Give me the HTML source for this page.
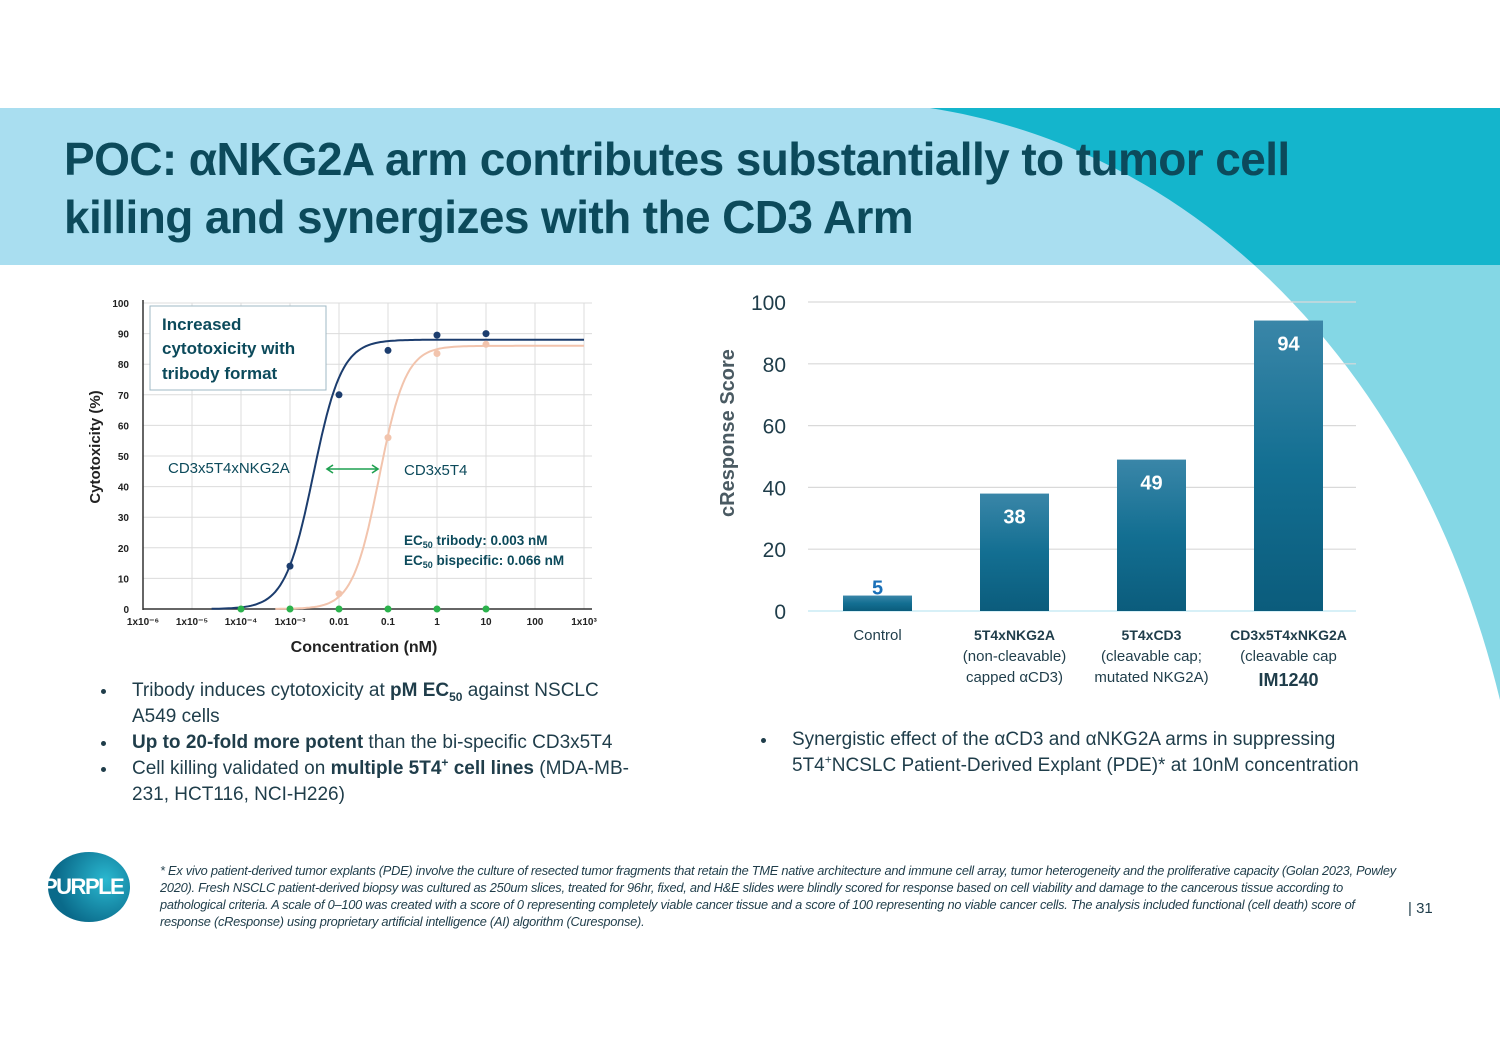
<!DOCTYPE html>
<html><head><meta charset="utf-8">
<style>
body{margin:0;width:1500px;height:1060px;overflow:hidden;background:#fff;font-family:"Liberation Sans",sans-serif;position:relative}
.abs{position:absolute}
.title{left:64px;top:130px;font-size:46px;font-weight:bold;color:#0c4a5b;line-height:58px;letter-spacing:-0.6px;white-space:nowrap}
.bul{font-size:19px;color:#1f3d4a;line-height:26px}
.bul li{margin:0;padding-left:14px}
.bul sub,.bul sup{font-size:12px;line-height:0}
.foot{left:160px;top:862px;width:1240px;font-size:12.8px;font-style:italic;color:#1f3d4a;line-height:17px;letter-spacing:-0.25px}
</style></head><body>
<svg class="abs" style="left:0;top:0" width="1500" height="1060">
<defs>
<clipPath id="band"><rect x="0" y="108" width="1500" height="157"/></clipPath>
<clipPath id="below"><rect x="0" y="265" width="1500" height="800"/></clipPath>
</defs>
<rect x="0" y="108" width="1500" height="157" fill="#a9def0"/>
<path d="M930,108 C1200,150 1420,370 1500,700 L1500,108 Z" fill="#14b5cc" clip-path="url(#band)"/>
<path d="M930,108 C1200,150 1420,370 1500,700 L1500,108 Z" fill="#84d7e5" clip-path="url(#below)"/>
</svg>
<div class="abs title">POC: αNKG2A arm contributes substantially to tumor cell<br>killing and synergizes with the CD3 Arm</div>

<svg id="left" class="abs" style="left:0;top:0" width="700" height="680"></svg>
<svg id="right" class="abs" style="left:0;top:0" width="1500" height="700"></svg>

<ul class="abs bul" style="left:96px;top:678px;width:520px;padding-left:22px;margin:0">
<li>Tribody induces cytotoxicity at <b>pM EC<sub>50</sub></b> against NSCLC A549 cells</li>
<li><b>Up to 20-fold more potent</b> than the bi-specific CD3x5T4</li>
<li>Cell killing validated on <b>multiple 5T4<sup>+</sup> cell lines</b> (MDA-MB-231, HCT116, NCI-H226)</li>
</ul>
<ul class="abs bul" style="left:756px;top:727px;width:640px;padding-left:22px;margin:0">
<li>Synergistic effect of the αCD3 and αNKG2A arms in suppressing 5T4<sup>+</sup>NCSLC Patient-Derived Explant (PDE)* at 10nM concentration</li>
</ul>
<div class="abs" style="left:48px;top:852px;width:82px;height:70px;border-radius:50%;background:radial-gradient(circle at 70% 40%,#2ab8d0,#0a6a8a 70%)"></div>
<div class="abs" style="left:43px;top:874px;font-size:22px;font-weight:bold;color:#fff;letter-spacing:-1.5px">PURPLE</div>
<div class="abs foot">* Ex vivo patient-derived tumor explants (PDE) involve the culture of resected tumor fragments that retain the TME native architecture and immune cell array, tumor heterogeneity and the proliferative capacity (Golan 2023, Powley 2020). Fresh NSCLC patient-derived biopsy was cultured as 250um slices, treated for 96hr, fixed, and H&amp;E slides were blindly scored for response based on cell viability and damage to the cancerous tissue according to pathological criteria. A scale of 0–100 was created with a score of 0 representing completely viable cancer tissue and a score of 100 representing no viable cancer cells. The analysis included functional (cell death) score of response (cResponse) using proprietary artificial intelligence (AI) algorithm (Curesponse).</div>
<div class="abs" style="left:1408px;top:900px;font-size:15px;color:#1f3d4a">| 31</div>

<script>
// ---- left chart data ----
const xTickLabels=["1x10⁻⁶","1x10⁻⁵","1x10⁻⁴","1x10⁻³","0.01","0.1","1","10","100","1x10³"];
const yTicks=[0,10,20,30,40,50,60,70,80,90,100];
const triConc=[0.001,0.01,0.1,1,10];
const triVals=[14,70,84.5,89.5,90];
const biConc=[0.01,0.1,1,10];
const biVals=[5,56,83.5,86.5];
const ctrlConc=[0.0001,0.001,0.01,0.1,1,10];
const ctrlVals=[0,0,0,0,0,0];
const triFit=[88,0.003,1.5];   // top, EC50, hill
const biFit=[86,0.066,1.6];
// ---- right chart data ----
const barCats=[["Control"],["5T4xNKG2A","(non-cleavable)","capped αCD3)"],["5T4xCD3","(cleavable cap;","mutated NKG2A)"],["CD3x5T4xNKG2A","(cleavable cap","IM1240"]];
const barVals=[5,38,49,94];
const barTicks=[0,20,40,60,80,100];

const NS="http://www.w3.org/2000/svg";
function mk(p,t,a,txt){const e=document.createElementNS(NS,t);for(const k in a)e.setAttribute(k,a[k]);if(txt!=null)e.textContent=txt;p.appendChild(e);return e;}
const L=document.getElementById('left');
const xs=v=>143+(Math.log10(v)+6)*49;
const ys=v=>609-v*3.06;
yTicks.forEach(t=>{const g=mk(L,'line',{x1:143,x2:592,y1:ys(t),y2:ys(t),stroke:'#dcdcdc','stroke-width':1});

const l=mk(L,'text',{x:129,y:ys(t)+4,'font-size':10,'font-weight':'bold','text-anchor':'end',fill:'#222'},t);
});
xTickLabels.forEach((s,i)=>{const x=xs(Math.pow(10,i-6));const g=mk(L,'line',{x1:x,x2:x,y1:303,y2:609,stroke:'#dcdcdc','stroke-width':1});

const l=mk(L,'text',{x:x,y:625,'font-size':10,'font-weight':'bold','text-anchor':'middle',fill:'#222'},s);
});
let a=mk(L,'line',{x1:143,x2:143,y1:300,y2:610,stroke:'#333','stroke-width':1.5});
a=mk(L,'line',{x1:143,x2:592,y1:609,y2:609,stroke:'#333','stroke-width':1.5});
a=mk(L,'text',{x:100,y:447,'font-size':15,'font-weight':'bold','text-anchor':'middle',fill:'#222',transform:'rotate(-90 100 447)'},'Cytotoxicity (%)');
a=mk(L,'text',{x:364,y:652,'font-size':16,'font-weight':'bold','text-anchor':'middle',fill:'#222'},'Concentration (nM)');
function curve(f,color,from,name){let d='';for(let lg=from;lg<=3.001;lg+=0.05){const c=Math.pow(10,lg);const v=f[0]/(1+Math.pow(f[1]/c,f[2]));d+=(d?'L':'M')+xs(c).toFixed(1)+','+ys(v).toFixed(1);}
const p=mk(L,'path',{d:d,fill:'none',stroke:color,'stroke-width':2});}
curve(triFit,'#1c3d6e',-4.6,'tribody-fit-curve');
curve(biFit,'#f2c4ad',-3.3,'bispecific-fit-curve');
function pts(cs,vs,color,name){cs.forEach((c,i)=>{const e=mk(L,'circle',{cx:xs(c),cy:ys(vs[i]),r:3.5,fill:color});});}
pts(ctrlConc,ctrlVals,'#2bb24c','control-point');
pts(biConc,biVals,'#f2c4ad','bispecific-point');
pts(triConc,triVals,'#1c3d6e','tribody-point');
a=mk(L,'rect',{x:150,y:306,width:176,height:84,fill:'#fff',stroke:'#9fb8c4','stroke-width':1});
[['Increased',330],['cytotoxicity with',354],['tribody format',379]].forEach(r=>{const t=mk(L,'text',{x:162,y:r[1],'font-size':17,'font-weight':'bold',fill:'#0c4a5b'},r[0]);});
a=mk(L,'text',{x:168,y:473,'font-size':15,fill:'#0c4a5b'},'CD3x5T4xNKG2A');
a=mk(L,'text',{x:404,y:475,'font-size':15,fill:'#0c4a5b'},'CD3x5T4');
a=mk(L,'path',{d:'M327,469 L378,469 M333,465 L327,469 L333,473 M372,465 L378,469 L372,473',stroke:'#1fa050','stroke-width':1.6,fill:'none'});
a=mk(L,'text',{x:404,y:545,'font-size':13.5,'font-weight':'bold',fill:'#0c4a5b'});a.innerHTML='EC<tspan font-size="9" dy="3">50</tspan><tspan dy="-3"> tribody: 0.003 nM</tspan>';
a=mk(L,'text',{x:404,y:565,'font-size':13.5,'font-weight':'bold',fill:'#0c4a5b'});a.innerHTML='EC<tspan font-size="9" dy="3">50</tspan><tspan dy="-3"> bispecific: 0.066 nM</tspan>';

const R=document.getElementById('right');
const defs=mk(R,'defs',{});
const lg=mk(defs,'linearGradient',{id:'bg',x1:0,y1:0,x2:0,y2:1});
mk(lg,'stop',{offset:0,'stop-color':'#3a86a8'});mk(lg,'stop',{offset:0.5,'stop-color':'#136f92'});mk(lg,'stop',{offset:1,'stop-color':'#0b5c7c'});
const by=v=>611-v*3.09;
const bx=i=>843+i*137;
barTicks.forEach(t=>{const g=mk(R,'line',{x1:808,x2:1356,y1:by(t),y2:by(t),stroke:t==0?'#bfe6f2':'#d9d9d9','stroke-width':1.2});
const l=mk(R,'text',{x:786,y:by(t)+8,'font-size':21,'text-anchor':'end',fill:'#1f3d4a'},t);});
a=mk(R,'text',{x:734,y:433,'font-size':20,'font-weight':'bold','text-anchor':'middle',fill:'#4a5a62',transform:'rotate(-90 734 433)'},'cResponse Score');
barVals.forEach((v,i)=>{const r=mk(R,'rect',{x:bx(i),y:by(v),width:69,height:by(0)-by(v),fill:'url(#bg)'});
const t=mk(R,'text',{x:bx(i)+34.5,y:i==0?by(v)-1:by(v)+30,'font-size':20,'font-weight':'bold','text-anchor':'middle',fill:i==0?'#1a70b8':'#fff'},v);
barCats[i].forEach((s,j)=>{const bold=(i>0&&j==0)||(i==3&&j==2);const c=mk(R,'text',{x:bx(i)+34.5,y:640+j*21+(i==3&&j==2?4:0),'font-size':i==3&&j==2?18:(bold?14:15),'font-weight':bold?'bold':'normal','text-anchor':'middle',fill:'#1f3d4a'},s);});});
</script>
</body></html>
